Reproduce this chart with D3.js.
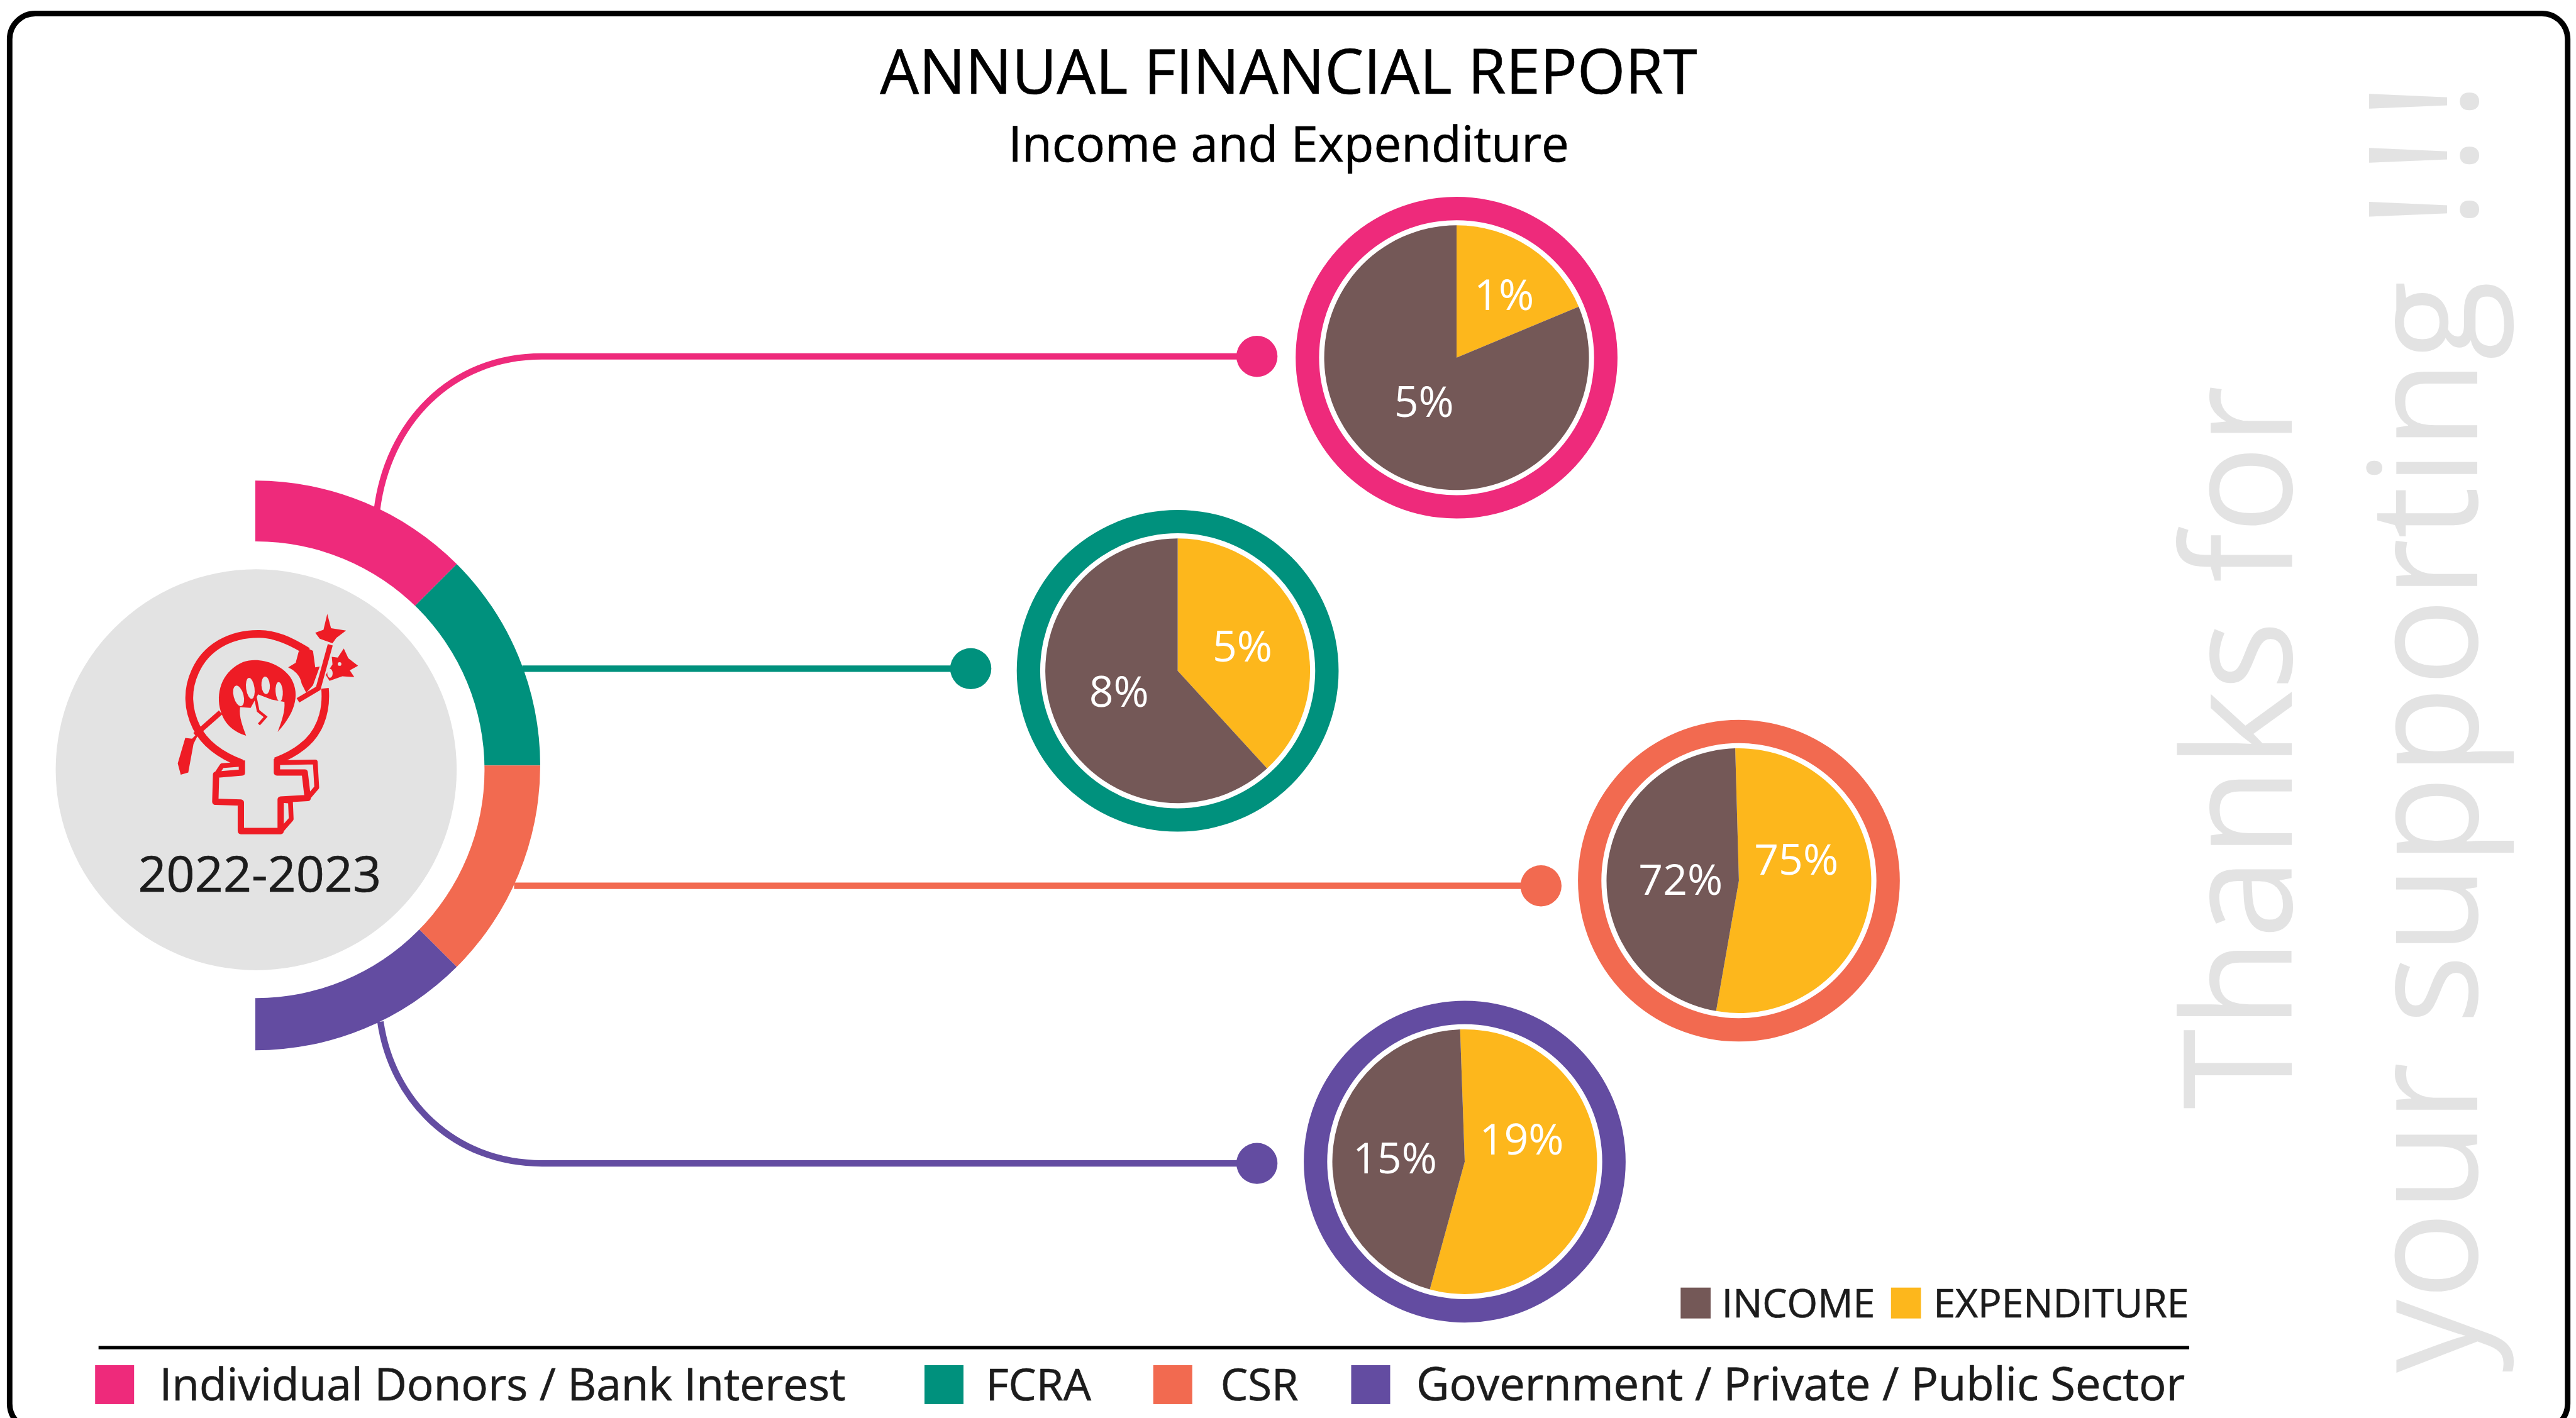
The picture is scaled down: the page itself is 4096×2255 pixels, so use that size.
<!DOCTYPE html>
<html>
<head>
<meta charset="utf-8">
<script src="https://cdnjs.cloudflare.com/ajax/libs/d3/7.8.5/d3.min.js"></script>
<style>
html,body{margin:0;padding:0;background:#fff;overflow:hidden}
svg{display:block}
text{font-family:"Open Sans",sans-serif}
text.ink{stroke:currentColor;stroke-width:0.7px}
</style>
</head>
<body>
<svg id="chart" width="4096" height="2255"></svg>
<script>
// ---- data ----
const sources = ["Individual Donors / Bank Interest", "FCRA", "CSR", "Government / Private / Public Sector"];
const incomeLabels = [5, 8, 72, 15];
const expenditureLabels = [1, 5, 75, 19];
// size of the expenditure slice on the drawn pie, % of the circle
const expenditureSlice = [18.7, 38.2, 53.2, 54.8];
const incomeSlice = [81.3, 61.8, 46.8, 45.2];
const seriesNames = ["INCOME", "EXPENDITURE"];
const title = "ANNUAL FINANCIAL REPORT";
const subtitle = "Income and Expenditure";
const period = "2022-2023";
const sideLines = ["Thanks for", "your supporting", "!!!"];

// ---- styles ----
const sourceColors = ["#EE2A7B", "#00917D", "#F26A50", "#634CA1"];
const incomeColor = "#745857", expenditureColor = "#FDB71C";
const ink = "#1c1c1c";

// ---- layout, in full reference pixels ----
const W = 6013, H = 3310;
const s = d3.scaleLinear().domain([0, W]).range([0, 4096]);
const pieCenters = [[3400, 835], [2749, 1566], [4059, 2056], [3419, 2712]];
const pieStart = [0, 0, -1.6, -2];
const expLabelPos = [[3511, 723], [2900, 1545], [4193, 2042], [3552, 2696]];
const incLabelPos = [[3324, 973], [2612, 1650], [3923, 2089], [3256, 2739]];
const ringCenter = [596, 1787], hubCenter = [598, 1797];
const dotX = [2934, 2266, 3597, 2934];

const svg = d3.select("#chart");

// frame
svg.append("rect")
  .attr("x", s(22.5)).attr("y", s(31.5))
  .attr("width", s(5993.5 - 22.5)).attr("height", s(3337 - 31.5))
  .attr("rx", s(60)).attr("ry", s(60))
  .attr("fill", "#fff").attr("stroke", "#000").attr("stroke-width", s(13));

// side watermark
const sideX = [5349, 5782, 5782], sideY = [2590, 3205, 535], sideLen = [1690, 2550, 345];
sideLines.forEach((t, i) => {
  svg.append("text")
    .attr("class", "side")
    .attr("transform", `translate(${s(sideX[i])},${s(sideY[i])}) rotate(-90)`)
    .attr("font-size", 240).attr("font-weight", 400)
    .attr("fill", "#E3E3E3")
    .attr("textLength", s(sideLen[i])).attr("lengthAdjust", i === 2 ? "spacing" : "spacingAndGlyphs")
    .text(t);
});

// title
svg.append("text").attr("class", "ink").attr("color", "#000").attr("x", s(3008)).attr("y", s(219)).attr("text-anchor", "middle")
  .attr("font-size", 98).attr("fill", "#000").text(title);
svg.append("text").attr("class", "ink").attr("color", "#000").attr("x", s(3008)).attr("y", s(377)).attr("text-anchor", "middle")
  .attr("font-size", 78).attr("fill", "#000").text(subtitle);

// connectors
const connectorPaths = [
  `M880,1190C905,990 1050,832 1265,832L${dotX[0]},832`,
  `M1219,1561L${dotX[1]},1561`,
  `M1200,2068L${dotX[2]},2068`,
  `M888,2385C915,2570 1060,2716 1265,2716L${dotX[3]},2716`
];
const dotY = [832, 1561, 2068, 2716];
const gScale = svg.append("g").attr("transform", `scale(${s(1)})`);
gScale.selectAll("path.conn").data(connectorPaths).join("path")
  .attr("class", "conn").attr("d", d => d).attr("fill", "none")
  .attr("stroke", (d, i) => sourceColors[i]).attr("stroke-width", 15);
gScale.selectAll("circle.dot").data(dotX).join("circle")
  .attr("class", "dot").attr("cx", d => d).attr("cy", (d, i) => dotY[i]).attr("r", 48)
  .attr("fill", (d, i) => sourceColors[i]);

// half ring of sources
const ringPie = d3.pie().value(1).sort(null).startAngle(0).endAngle(Math.PI);
const ringArc = d3.arc().innerRadius(s(400)).outerRadius(s(665));
svg.append("g").attr("transform", `translate(${s(ringCenter[0])},${s(ringCenter[1])})`)
  .selectAll("path").data(ringPie(sources)).join("path")
  .attr("d", ringArc).attr("fill", (d, i) => sourceColors[i]);
svg.append("circle").attr("cx", s(hubCenter[0])).attr("cy", s(hubCenter[1])).attr("r", s(533)).attr("fill", "#fff");

// hub circle
svg.append("circle").attr("cx", s(hubCenter[0])).attr("cy", s(hubCenter[1])).attr("r", s(468)).attr("fill", "#E3E3E3");
svg.append("text").attr("class", "ink").attr("color", ink).attr("x", s(606)).attr("y", s(2081)).attr("text-anchor", "middle")
  .attr("font-size", 79).attr("fill", ink).text(period);

// emblem (illustration, traced on a 550-reference-pixel box)
const red = "#EE1C25", hubGrey = "#E3E3E3";
const logo = svg.append("g").attr("transform", `translate(${s(350)},${s(1400)}) scale(${s(1) / 2.851})`);
logo.append("path").attr("fill", "none").attr("stroke", red).attr("stroke-width", 52)
  .attr("d", "M612 1090C480 1040 370 970 310 850C250 730 245 600 300 480C370 320 530 225 730 228C830 228 930 270 1050 345");
logo.append("path").attr("fill", "none").attr("stroke", red).attr("stroke-width", 50)
  .attr("d", "M1165 590C1180 760 1120 900 1010 980C960 1020 900 1050 835 1075");
logo.append("path").attr("fill", red)
  .attr("d", "M1040 320L1085 340L1100 450L1130 445L1085 570L1040 620L1010 560C1000 500 960 470 920 450L970 420L990 345Z");
// spear
logo.append("path").attr("fill", "none").attr("stroke", red).attr("stroke-width", 34)
  .attr("d", "M300 900L470 750");
logo.append("path").attr("fill", "none").attr("stroke", red).attr("stroke-width", 34)
  .attr("d", "M985 670L1120 590L1200 300");
logo.append("path").attr("fill", red)
  .attr("d", "M235 920L280 925L335 870L290 960L255 1150L205 1165L185 1090Z");
logo.append("path").attr("fill", red)
  .attr("d", "M1180 95L1205 190L1305 205L1240 255L1215 290L1130 260L1100 220L1155 200Z");
logo.append("path").attr("fill", red)
  .attr("d", "M1290 325L1320 390L1385 440L1330 470L1360 515L1280 510L1195 540L1170 500L1215 430L1210 380L1250 385Z");
logo.append("ellipse").attr("cx", 1198).attr("cy", 490).attr("rx", 18).attr("ry", 30).attr("fill", hubGrey);
logo.append("circle").attr("cx", 1262).attr("cy", 428).attr("r", 12).attr("fill", hubGrey);
// fist
logo.append("path").attr("fill", red)
  .attr("d", "M640 905C560 880 490 830 465 720C440 600 490 470 620 415C720 380 860 420 930 510C1000 610 980 740 850 880C880 800 900 740 895 680L810 665L720 630L670 720L600 715C590 780 620 850 640 905Z");
[[590, 640, 33, 70, -15], [668, 590, 28, 70, -8], [770, 570, 28, 58, -4], [860, 612, 24, 64, -4]].forEach(f => {
  logo.append("ellipse").attr("rx", f[2]).attr("ry", f[3]).attr("fill", hubGrey)
    .attr("transform", `translate(${f[0]},${f[1]}) rotate(${f[4]})`);
});
logo.append("path").attr("fill", "none").attr("stroke", red).attr("stroke-width", 18)
  .attr("d", "M700 640L720 740L770 780L725 830");
// cross
logo.append("path").attr("fill", "none").attr("stroke", red).attr("stroke-width", 42).attr("stroke-linejoin", "round")
  .attr("d", "M612 1070L612 1150L440 1165L435 1345L605 1350L605 1540L870 1540L870 1330L1050 1320L1030 1150L845 1150L845 1060");
logo.append("path").attr("fill", "none").attr("stroke", red).attr("stroke-width", 32).attr("stroke-linejoin", "round")
  .attr("d", "M440 1165L480 1105L610 1095M850 1085L1100 1080L1110 1250L1050 1320M870 1540L940 1460L935 1340L870 1335");

// pies
const pieGen = (i) => d3.pie().sort(null).value(d => d)
  .startAngle(pieStart[i] * Math.PI / 180)
  .endAngle((pieStart[i] + 360) * Math.PI / 180);
const pieArc = d3.arc().innerRadius(0).outerRadius(s(309));
const band = d3.arc().innerRadius(s(321)).outerRadius(s(375.5)).startAngle(0).endAngle(2 * Math.PI);
sources.forEach((src, i) => {
  const g = svg.append("g").attr("transform", `translate(${s(pieCenters[i][0])},${s(pieCenters[i][1])})`);
  g.append("path").attr("d", band()).attr("fill", sourceColors[i]);
  g.selectAll("path.slice").data(pieGen(i)([expenditureSlice[i], incomeSlice[i]])).join("path")
    .attr("class", "slice").attr("d", pieArc)
    .attr("fill", (d, j) => j ? incomeColor : expenditureColor);
  svg.append("text").attr("x", s(expLabelPos[i][0])).attr("y", s(expLabelPos[i][1]))
    .attr("text-anchor", "middle").attr("font-size", 68).attr("fill", "#fff")
    .text(expenditureLabels[i] + "%");
  svg.append("text").attr("x", s(incLabelPos[i][0])).attr("y", s(incLabelPos[i][1]))
    .attr("text-anchor", "middle").attr("font-size", 68).attr("fill", "#fff")
    .text(incomeLabels[i] + "%");
});

// series legend
const seriesSwatchX = [3923, 4414], seriesTextX = [4019, 4513];
seriesNames.forEach((n, i) => {
  svg.append("rect").attr("x", s(seriesSwatchX[i])).attr("y", s(3006))
    .attr("width", s(70)).attr("height", s(72))
    .attr("fill", i ? expenditureColor : incomeColor);
  svg.append("text").attr("class", "ink").attr("color", ink).attr("x", s(seriesTextX[i])).attr("y", s(3075))
    .attr("font-size", 62.5).attr("fill", ink).text(n);
});

// rule
svg.append("rect").attr("x", s(230)).attr("y", s(3142)).attr("width", s(4880)).attr("height", s(8)).attr("fill", "#000");

// sources legend
const sourceSwatchX = [222, 2158, 2692, 3154], sourceTextX = [372, 2301, 2849, 3306], sourceSize = [71.2, 70, 69, 72.3];
sources.forEach((n, i) => {
  svg.append("rect").attr("x", s(sourceSwatchX[i])).attr("y", s(3187))
    .attr("width", s(91)).attr("height", s(91)).attr("fill", sourceColors[i]);
  svg.append("text").attr("class", "ink").attr("color", ink).attr("x", s(sourceTextX[i])).attr("y", s(3270))
    .attr("font-size", sourceSize[i]).attr("fill", ink).text(n);
});
</script>
</body>
</html>
